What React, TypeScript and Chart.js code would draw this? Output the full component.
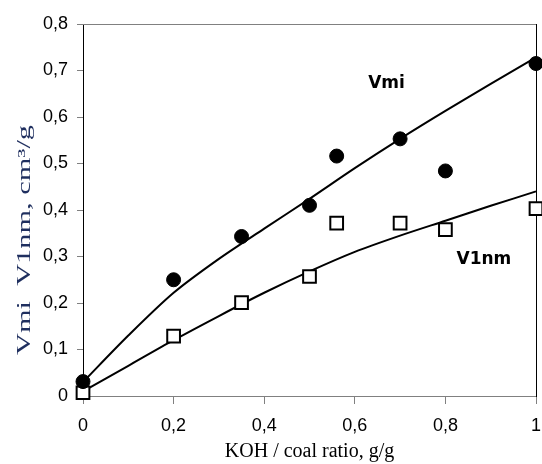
import React, { useEffect, useRef } from "react";
import { Chart, registerables } from "chart.js";

Chart.register(...registerables);

// Measured points
const ratioX = [0, 0.2, 0.35, 0.5, 0.56, 0.7, 0.8, 1.0];
const vmiValues = [0.031, 0.25, 0.343, 0.41, 0.516, 0.553, 0.484, 0.715];
const v1nmValues = [0.007, 0.129, 0.201, 0.257, 0.372, 0.372, 0.358, 0.403];

// Fitted curves
const fitX = [0, 0.1, 0.2, 0.3, 0.4, 0.5, 0.6, 0.7, 0.8, 0.9, 1.0];
const vmiFit = [0.03, 0.13, 0.222, 0.295, 0.36, 0.424, 0.49, 0.553, 0.613, 0.671, 0.728];
const v1nmFit = [0.01, 0.065, 0.12, 0.172, 0.222, 0.268, 0.31, 0.345, 0.377, 0.409, 0.44];

// Axis settings
const xMin = 0;
const xMax = 1;
const xStep = 0.2;
const yMin = 0;
const yMax = 0.8;
const yStep = 0.1;

// Series labels
const seriesLabels = ["Vmi", "V1nm"];
const labelAnchors = [
  { x: 0.67, y: 0.672 },
  { x: 0.885, y: 0.294 },
];

const xTitle = "KOH / coal ratio, g/g";
const yTitle = "Vmi  V1nm, cm³/g";

const fmt = (v: number) => {
  const r = Math.round(v * 10) / 10;
  if (r === 0) return "0";
  if (r === 1) return "1";
  return r.toFixed(1).replace(".", ",");
};

const seriesLabelPlugin = {
  id: "seriesLabels",
  afterDatasetsDraw(chart: any) {
    const { ctx, scales } = chart;
    ctx.save();
    ctx.font = "bold 17px 'DejaVu Sans'";
    ctx.fillStyle = "#000";
    ctx.textAlign = "center";
    ctx.textBaseline = "middle";
    seriesLabels.forEach((t, i) => {
      const a = labelAnchors[i];
      ctx.fillText(t, scales.x.getPixelForValue(a.x), scales.y.getPixelForValue(a.y));
    });
    ctx.restore();
  },
};

// Y-axis title drawn stretched along its reading direction, as in the original
const yTitlePlugin = {
  id: "yTitleStretched",
  afterDraw(chart: any) {
    const { ctx } = chart;
    ctx.save();
    ctx.font = "18px 'Liberation Serif', 'Times New Roman'";
    ctx.fillStyle = "#1f2f5f";
    ctx.textAlign = "center";
    ctx.textBaseline = "middle";
    const w = ctx.measureText(yTitle).width;
    const target = 230;
    ctx.translate(25, 240);
    ctx.rotate(-Math.PI / 2);
    ctx.scale(target / w, 1);
    ctx.fillText(yTitle, 0, 0);
    ctx.restore();
  },
};

export default function App() {
  const ref = useRef<HTMLCanvasElement | null>(null);

  useEffect(() => {
    document.body.style.margin = "0";
    const canvas = ref.current;
    if (!canvas) return;
    const chart = new Chart(canvas, {
      type: "scatter",
      data: {
        datasets: [
          {
            label: "Vmi points",
            data: ratioX.map((x, i) => ({ x, y: vmiValues[i] })),
            pointStyle: "circle",
            pointRadius: 7,
            pointBackgroundColor: "#000",
            pointBorderColor: "#000",
            pointBorderWidth: 1,
            showLine: false,
            order: 0,
            clip: false as any,
          },
          {
            label: "V1nm points",
            data: ratioX.map((x, i) => ({ x, y: v1nmValues[i] })),
            pointStyle: "rect",
            pointRadius: 9,
            pointBackgroundColor: "#fff",
            pointBorderColor: "#000",
            pointBorderWidth: 2,
            showLine: false,
            order: 0,
            clip: false as any,
          },
          {
            label: "Vmi fit",
            data: fitX.map((x, i) => ({ x, y: vmiFit[i] })),
            showLine: true,
            pointRadius: 0,
            borderColor: "#000",
            borderWidth: 2,
            tension: 0.3,
            order: 1,
            clip: false as any,
          },
          {
            label: "V1nm fit",
            data: fitX.map((x, i) => ({ x, y: v1nmFit[i] })),
            showLine: true,
            pointRadius: 0,
            borderColor: "#000",
            borderWidth: 2,
            tension: 0.3,
            order: 1,
            clip: false as any,
          },
        ],
      },
      options: {
        animation: false,
        responsive: false,
        maintainAspectRatio: false,
        layout: { autoPadding: false, padding: { top: 24, right: 6, bottom: 0, left: 0 } },
        plugins: {
          legend: { display: false },
          tooltip: { enabled: false },
        },
        scales: {
          x: {
            type: "linear",
            position: "bottom",
            min: xMin,
            max: xMax,
            afterFit: (s: any) => {
              s.height = 68;
              s.paddingLeft = 0;
              s.paddingRight = 0;
            },
            ticks: {
              stepSize: xStep,
              callback: (v: any) => fmt(Number(v)),
              color: "#000",
              font: { family: "'Liberation Sans', Arial", size: 18 },
              padding: 11,
              maxRotation: 0,
            },
            grid: {
              display: true,
              drawOnChartArea: false,
              drawTicks: true,
              tickLength: 8,
              color: "#808080",
            },
            border: { display: true, color: "#808080", width: 1 },
            title: {
              display: true,
              text: xTitle,
              color: "#000",
              font: { family: "'Liberation Serif', 'Times New Roman'", size: 20 },
              padding: { top: 0, bottom: 0 },
            },
          },
          y: {
            type: "linear",
            position: "left",
            min: yMin,
            max: yMax,
            afterFit: (s: any) => {
              s.width = 83;
              s.paddingTop = 0;
              s.paddingBottom = 0;
            },
            ticks: {
              stepSize: yStep,
              callback: (v: any) => fmt(Number(v)),
              color: "#000",
              font: { family: "'Liberation Sans', Arial", size: 18 },
              padding: 9,
            },
            grid: {
              display: true,
              drawOnChartArea: false,
              drawTicks: true,
              tickLength: 6,
              color: "#808080",
            },
            border: { display: true, color: "#000", width: 1 },
          },
          x2: {
            type: "linear",
            position: "top",
            min: xMin,
            max: xMax,
            afterFit: (s: any) => {
              s.height = 0;
              s.paddingLeft = 0;
              s.paddingRight = 0;
            },
            ticks: { display: false },
            grid: { display: false, drawTicks: false },
            border: { display: true, color: "#808080", width: 1 },
          },
          y2: {
            type: "linear",
            position: "right",
            min: yMin,
            max: yMax,
            afterFit: (s: any) => {
              s.width = 0;
              s.paddingTop = 0;
              s.paddingBottom = 0;
            },
            ticks: { display: false },
            grid: { display: false, drawTicks: false },
            border: { display: true, color: "#000", width: 1 },
          },
        },
      },
      plugins: [seriesLabelPlugin, yTitlePlugin],
    } as any);
    return () => chart.destroy();
  }, []);

  return (
    <div style={{ width: 542, height: 464 }}>
      <canvas ref={ref} width={542} height={464} style={{ width: 542, height: 464, display: "block" }} />
    </div>
  );
}
